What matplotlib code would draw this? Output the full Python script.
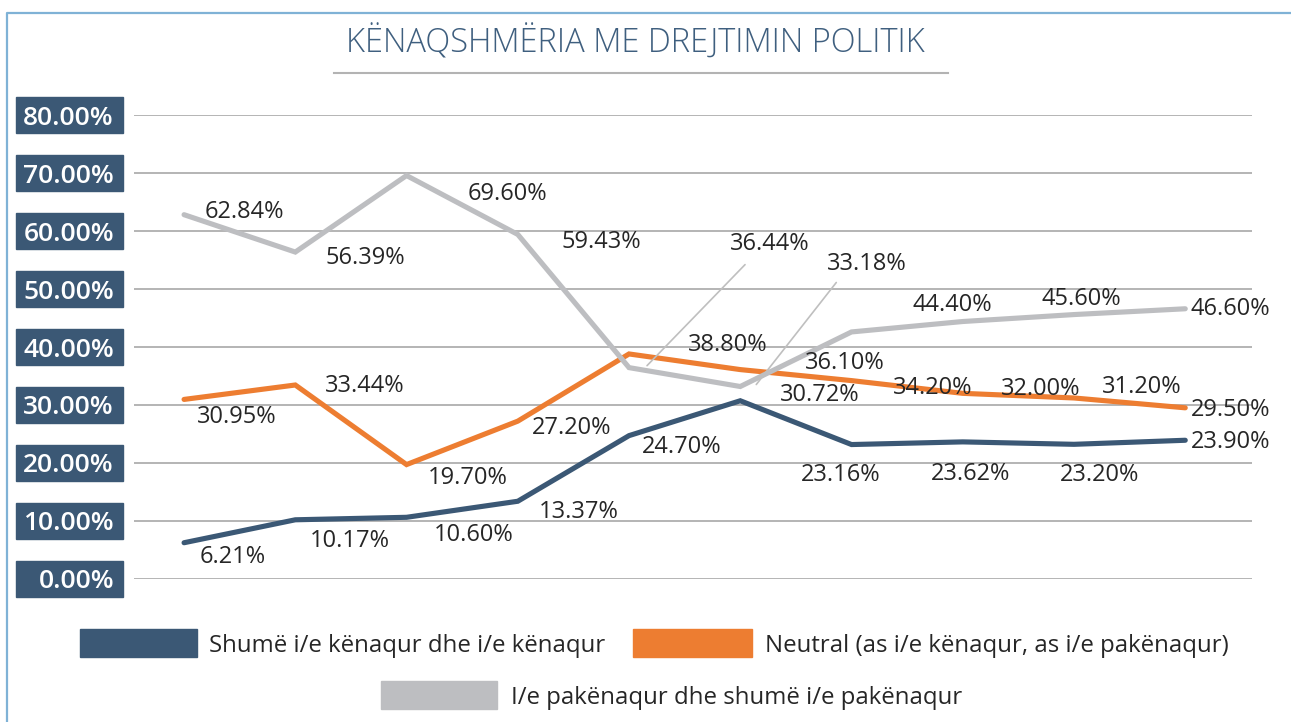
import matplotlib
matplotlib.use('Agg')
import matplotlib.pyplot as plt
from matplotlib.patches import Rectangle
from matplotlib.lines import Line2D
from matplotlib.transforms import offset_copy

W, H = 1291, 722

# --- data ---
periods = list(range(10))
satisfied = [6.21, 10.17, 10.60, 13.37, 24.70, 30.72, 23.16, 23.62, 23.20, 23.90]
neutral = [30.95, 33.44, 19.70, 27.20, 38.80, 36.10, 34.20, 32.00, 31.20, 29.50]
dissatisfied = [62.84, 56.39, 69.60, 59.43, 36.44, 33.18, 42.60, 44.40, 45.60, 46.60]
dissat_shown = [True, True, True, True, True, True, False, True, True, True]
y_ticks = [0, 10, 20, 30, 40, 50, 60, 70, 80]

title = "KËNAQSHMËRIA ME DREJTIMIN POLITIK"
names = ["Shumë i/e kënaqur dhe i/e kënaqur",
         "Neutral (as i/e kënaqur, as i/e pakënaqur)",
         "I/e pakënaqur dhe shumë i/e pakënaqur"]

# label centre offsets from each point, pixels (right, down)
sat_off = [(49, 12), (55, 19), (67, 15), (61, 8), (53, 9), (79, -8),
           (-11, 28), (8, 30), (26, 28), (45, -1)]
neu_off = [(53, 15), (69, -1), (61, 11), (54, 4), (99, -11), (105, -9),
           (81, 5), (78, -7), (68, -13), (45, 0)]
dis_off = [(60, -5), (70, 3), (101, 16), (84, 5), (141, -126), (127, -125),
           (0, 0), (-10, -19), (7, -18), (45, -2)]
# leader lines for gray labels 4 and 5: (start, end) offsets in pixels (right, up)
leaders = {4: ((18, 2), (116, 103)), 5: ((16, 2), (96, 104))}

BLUE = '#3B5875'
ORANGE = '#ED7D31'
GRAY = '#BDBEC1'
TXT = '#262626'
FONT = 'Open Sans'

plt.rcParams['font.family'] = [FONT, 'DejaVu Sans']

fig = plt.figure(figsize=(W / 100, H / 100), dpi=100)


def fx(x):
    return x / W


def fy(y):
    return 1 - y / H


y0, y80 = 578.7, 115.3
ax = fig.add_axes([fx(134), fy(y0), fx(1252) - fx(134), (y0 - y80) / H])
ax.set_xlim(-0.45, 9.60)
ax.set_ylim(0, 80)
for s in ax.spines.values():
    s.set_visible(False)
ax.set_xticks([])
ax.set_yticks(y_ticks)
ax.tick_params(axis='y', length=0, labelleft=False)
ax.yaxis.grid(True, color='#A8A8A8', lw=1.2)
ax.set_axisbelow(True)

for vals, col in [(satisfied, BLUE), (neutral, ORANGE), (dissatisfied, GRAY)]:
    ax.plot(periods, vals, color=col, lw=3.7, solid_capstyle='round',
            solid_joinstyle='miter', zorder=3)

# y tick label boxes
px_per_unit = (y0 - y80) / 80
box_h = 36 / px_per_unit
for t in y_ticks:
    ax.add_patch(Rectangle(((16 - 134) / 1118, t - box_h / 2), 107 / 1118, box_h,
                           transform=ax.get_yaxis_transform(), color=BLUE,
                           clip_on=False, zorder=1))
    ax.annotate(f"{t:.2f}%", xy=(-20 / 1118, t), xycoords=ax.get_yaxis_transform(),
                xytext=(0, -9.5), textcoords='offset pixels', ha='right', va='baseline',
                color='white', fontsize=19, fontweight='semibold', annotation_clip=False)

# data labels
def put_labels(vals, offs, shown=None):
    for i, (v, (dx, dy)) in enumerate(zip(vals, offs)):
        if shown is not None and not shown[i]:
            continue
        ax.annotate(f"{v:.2f}%", xy=(periods[i], v), xytext=(dx, -(dy + 8.5)),
                    textcoords='offset pixels', ha='center', va='baseline',
                    fontsize=17, color=TXT, zorder=5, annotation_clip=False)


put_labels(satisfied, sat_off)
put_labels(neutral, neu_off)
put_labels(dissatisfied, dis_off, dissat_shown)

for i, ((sx, sy), (ex, ey)) in leaders.items():
    tr = offset_copy(ax.transData, fig=fig, x=sx, y=sy, units='dots')
    ax.annotate('', xy=(periods[i], dissatisfied[i]), xycoords=tr,
                xytext=(ex - sx, ey - sy), textcoords='offset pixels',
                arrowprops=dict(arrowstyle='-', color='#BFBFBF', lw=1.2,
                                shrinkA=0, shrinkB=0), zorder=4)

# title and underline
fig.text(fx(635), fy(52), title, ha='center', va='baseline', fontsize=23.5,
         fontweight='light', color='#3F5F7F')
fig.add_artist(Line2D([fx(334), fx(948)], [fy(72.5), fy(72.5)], color='#B3B3B3', lw=1.5))

# frame (top and left only)
fig.add_artist(Line2D([fx(7), fx(7), fx(W)], [fy(H), fy(13), fy(13)],
                      color='#7FB2D6', lw=1.6))

# legend
legend_items = [(BLUE, 80, 197, 629, 657, 209),
                (ORANGE, 633, 752, 629, 657, 765),
                (GRAY, 381, 497, 681, 709, 511)]
for (col, x1, x2, yt, yb, tx), name in zip(legend_items, names):
    fig.add_artist(Rectangle((fx(x1), fy(yb)), fx(x2) - fx(x1), (yb - yt) / H,
                             transform=fig.transFigure, color=col))
    fig.text(fx(tx), fy((yt + yb) / 2 + 8.5), name, ha='left', va='baseline',
             fontsize=17.3, color=TXT)

fig.savefig('out.png', dpi=100)
